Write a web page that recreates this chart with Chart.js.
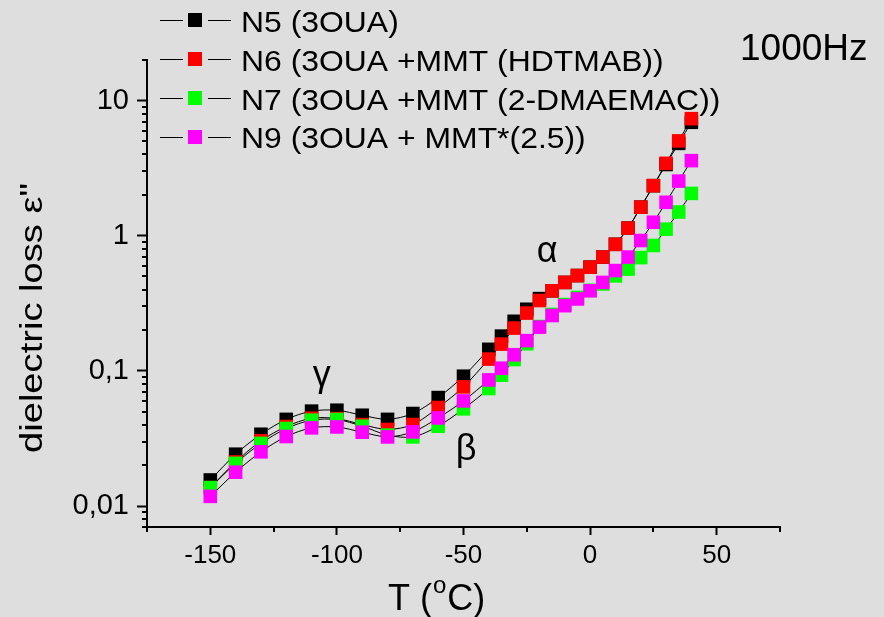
<!DOCTYPE html>
<html>
<head>
<meta charset="utf-8">
<script src="https://cdn.jsdelivr.net/npm/chart.js@4.4.0/dist/chart.umd.min.js"></script>
<style>
  html, body { margin: 0; padding: 0; background: #dedede; }
  #plot { width: 884px; height: 617px; }
</style>
</head>
<body>
<div id="plot"></div>
<script>
//temperature grid: 10 degree steps up to -50, 5 degree steps after
const temperatures = [-150, -140, -130, -120, -110, -100, -90, -80, -70, -60, -50,
  -40, -35, -30, -25, -20, -15, -10, -5, 0, 5, 10, 15, 20, 25, 30, 35, 40];

//dielectric loss at 1000Hz for each sample
const lossN5 = [0.0156, 0.0242, 0.0340, 0.0438, 0.0504, 0.0512, 0.0470, 0.0438, 0.0484, 0.0635, 0.0914,
  0.1445, 0.181, 0.233, 0.286, 0.343, 0.392, 0.452, 0.508, 0.586, 0.696, 0.865, 1.14, 1.63, 2.35, 3.37, 4.83, 6.92];
const lossN6 = [0.0137, 0.0212, 0.0304, 0.0388, 0.0447, 0.0444, 0.0401, 0.0369, 0.0401, 0.0536, 0.0762,
  0.1224, 0.158, 0.2075, 0.268, 0.332, 0.392, 0.452, 0.508, 0.586, 0.696, 0.865, 1.14, 1.63, 2.35, 3.44, 5.04, 7.36];
const lossN7 = [0.0137, 0.0207, 0.0291, 0.0375, 0.0432, 0.0437, 0.0390, 0.0335, 0.0325, 0.0390, 0.0524,
  0.0741, 0.0930, 0.1214, 0.159, 0.213, 0.262, 0.310, 0.350, 0.395, 0.440, 0.505, 0.567, 0.690, 0.848, 1.12, 1.50, 2.06];
const lossN9 = [0.0118, 0.0178, 0.0252, 0.0327, 0.0379, 0.0385, 0.0352, 0.0325, 0.0354, 0.0449, 0.0600,
  0.0858, 0.1047, 0.1318, 0.1676, 0.211, 0.257, 0.304, 0.341, 0.392, 0.452, 0.553, 0.696, 0.923, 1.26, 1.77, 2.54, 3.60];

const seriesNames = ['N5 (3OUA)', 'N6 (3OUA +MMT (HDTMAB))', 'N7 (3OUA +MMT (2-DMAEMAC))', 'N9 (3OUA + MMT*(2.5))'];
const seriesColors = ['#000000', '#ff0000', '#00ff00', '#ff00ff'];

const xMajorTicks = [-150, -100, -50, 0, 50];
const xMinorTicks = [-175, -125, -75, -25, 25, 75];
const yMajorTicks = [0.01, 0.1, 1, 10];
const yMinorTicks = [0.007, 0.008, 0.009, 0.02, 0.03, 0.04, 0.05, 0.06, 0.07, 0.08, 0.09,
  0.2, 0.3, 0.4, 0.5, 0.6, 0.7, 0.8, 0.9, 2, 3, 4, 5, 6, 7, 8, 9, 20];

const peakLabels = [
  { text: 'γ', t: -106, y: 386 },
  { text: 'β', t: -49, y: 460 },
  { text: 'α', t: -17, y: 262 },
];

const fontFamily = "'Liberation Sans', Arial, sans-serif";

function drawStretched(ctx, text, x, y, size, sx) {
  ctx.save();
  ctx.font = size + 'px ' + fontFamily;
  ctx.translate(x, y);
  ctx.scale(sx, 1);
  ctx.fillText(text, 0, 0);
  ctx.restore();
}

//background, minor ticks, legend and text labels
const decorPlugin = {
  id: 'decor',
  beforeDraw(chart) {
    const ctx = chart.ctx;
    ctx.save();
    ctx.fillStyle = '#dedede';
    ctx.fillRect(0, 0, chart.width, chart.height);
    ctx.restore();
  },
  afterDraw(chart) {
    const ctx = chart.ctx;
    const area = chart.chartArea;
    const xs = chart.scales.x;
    const ys = chart.scales.y;
    ctx.save();
    ctx.strokeStyle = '#000';
    ctx.fillStyle = '#000';
    ctx.lineWidth = 2;
    //minor ticks
    ctx.beginPath();
    for (let i = 0; i < xMinorTicks.length; i++) {
      const px = Math.round(xs.getPixelForValue(xMinorTicks[i]));
      ctx.moveTo(px, area.bottom);
      ctx.lineTo(px, area.bottom + 5);
    }
    for (let i = 0; i < yMinorTicks.length; i++) {
      const py = Math.round(ys.getPixelForValue(yMinorTicks[i]));
      ctx.moveTo(area.left - 5, py);
      ctx.lineTo(area.left, py);
    }
    ctx.stroke();

    //legend
    ctx.textAlign = 'left';
    ctx.textBaseline = 'alphabetic';
    for (let i = 0; i < seriesNames.length; i++) {
      const base = 31.7 + i * 38.9;
      const cy = Math.round(base - 11.5) + 0.5;
      ctx.lineWidth = 1;
      ctx.beginPath();
      ctx.moveTo(160, cy);
      ctx.lineTo(183, cy);
      ctx.moveTo(208, cy);
      ctx.lineTo(231, cy);
      ctx.stroke();
      ctx.fillStyle = seriesColors[i];
      ctx.fillRect(188, cy - 7.5, 14, 14);
      ctx.fillStyle = '#000';
      drawStretched(ctx, seriesNames[i], 241, base, 29, 1.1);
    }

    drawStretched(ctx, '1000Hz', 740, 60, 37, 1);

    //relaxation labels
    ctx.textAlign = 'center';
    for (let i = 0; i < peakLabels.length; i++) {
      const p = peakLabels[i];
      ctx.font = '36px ' + fontFamily;
      ctx.fillText(p.text, xs.getPixelForValue(p.t), p.y);
    }

    //x axis title with raised "o"
    ctx.textAlign = 'left';
    ctx.font = '36px ' + fontFamily;
    let tx = 388;
    ctx.fillText('T (', tx, 610);
    tx += ctx.measureText('T (').width + 1;
    ctx.font = '24px ' + fontFamily;
    ctx.fillText('o', tx, 593);
    tx += ctx.measureText('o').width + 1;
    ctx.font = '36px ' + fontFamily;
    ctx.fillText('C)', tx, 610);

    //y axis title
    const yTitle = 'dielectric loss ε"';
    ctx.font = '31px ' + fontFamily;
    const sx = 270 / ctx.measureText(yTitle).width;
    ctx.translate(42, 453);
    ctx.rotate(-Math.PI / 2);
    ctx.scale(sx, 1);
    ctx.fillText(yTitle, 0, 0);
    ctx.restore();
  }
};

class dielectricLossChart {
  constructor(inDOM) {
    this.parent = inDOM;
    this.canvas = document.createElement('canvas');
    this.parent.appendChild(this.canvas);
    this.canvas.width = 884;
    this.canvas.height = 617;

    this.generateData();
    this.generateConfig();
    this.chart = new Chart(this.canvas, this.config);
  }
  generateData() {
    const series = [lossN5, lossN6, lossN7, lossN9];
    this.datasets = [];
    for (let i = 0; i < series.length; i++) {
      const points = [];
      for (let j = 0; j < temperatures.length; j++) {
        points.push({ x: temperatures[j], y: series[i][j] });
      }
      this.datasets.push({
        label: seriesNames[i],
        data: points,
        borderColor: '#000000',
        borderWidth: 1,
        backgroundColor: seriesColors[i],
        pointStyle: 'rect',
        pointRadius: 9.6,
        pointBorderWidth: 0,
        pointBackgroundColor: seriesColors[i],
        tension: 0.3,
        //later samples are drawn on top
        order: series.length - i,
      });
    }
    this.data = { datasets: this.datasets };
  }
  generateConfig() {
    this.config = {
      type: 'line',
      data: this.data,
      plugins: [decorPlugin],
      options: {
        responsive: false,
        animation: false,
        layout: { padding: { top: 60, right: 104, left: 0, bottom: 0 } },
        plugins: {
          legend: { display: false },
          tooltip: { enabled: false },
        },
        scales: {
          x: {
            type: 'linear',
            min: -175,
            max: 75,
            afterBuildTicks: (scale) => { scale.ticks = xMajorTicks.map(v => ({ value: v })); },
            afterFit: (scale) => { scale.height = 90; },
            border: { display: true, color: '#000', width: 2 },
            grid: { display: true, drawOnChartArea: false, drawTicks: true, tickLength: 8, tickColor: '#000', tickWidth: 2 },
            ticks: { color: '#000', font: { size: 26, family: fontFamily }, padding: 5, maxRotation: 0 },
          },
          y: {
            type: 'logarithmic',
            min: 0.007,
            max: 20,
            afterBuildTicks: (scale) => { scale.ticks = yMajorTicks.map(v => ({ value: v })); },
            afterFit: (scale) => { scale.width = 147; },
            border: { display: true, color: '#000', width: 2 },
            grid: { display: true, drawOnChartArea: false, drawTicks: true, tickLength: 10, tickColor: '#000', tickWidth: 2 },
            ticks: {
              color: '#000',
              font: { size: 29, family: fontFamily },
              padding: 8,
              callback: (value) => String(value).replace('.', ','),
            },
          },
        },
      },
    };
  }
}

new dielectricLossChart(document.getElementById('plot'));
</script>
</body>
</html>
